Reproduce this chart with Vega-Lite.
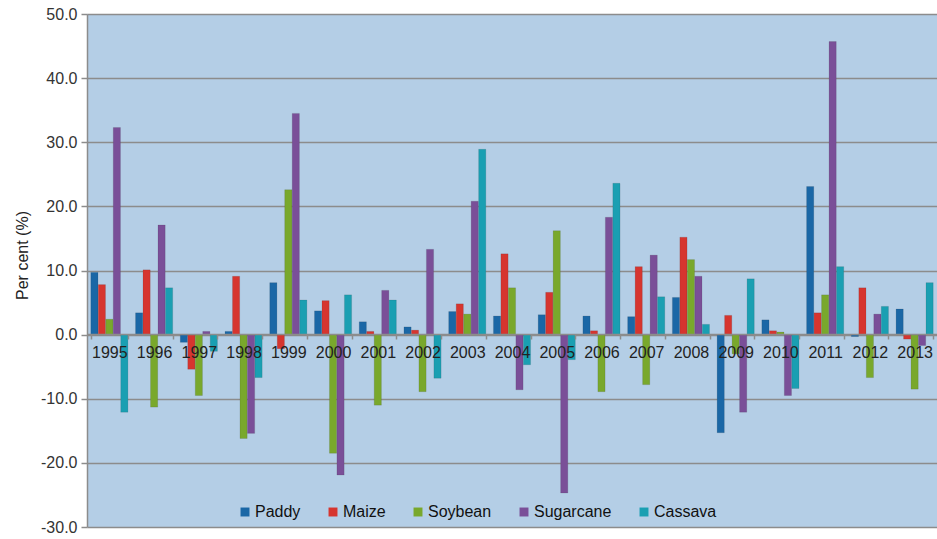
{
  "$schema": "https://vega.github.io/schema/vega-lite/v6.json",
  "width": 850,
  "height": 513,
  "autosize": {"type": "none"},
  "padding": {"left": 87, "top": 14, "right": 0, "bottom": 12},
  "background": "white",
  "config": {
    "view": {"fill": "#b4cee6", "stroke": null},
    "font": "Liberation Sans"
  },
  "data": {
    "values": [
      {"year": "1995", "crop": "Paddy", "value": 9.7},
      {"year": "1995", "crop": "Maize", "value": 7.8},
      {"year": "1995", "crop": "Soybean", "value": 2.4},
      {"year": "1995", "crop": "Sugarcane", "value": 32.3},
      {"year": "1995", "crop": "Cassava", "value": -12.1},
      {"year": "1996", "crop": "Paddy", "value": 3.4},
      {"year": "1996", "crop": "Maize", "value": 10.1},
      {"year": "1996", "crop": "Soybean", "value": -11.3},
      {"year": "1996", "crop": "Sugarcane", "value": 17.1},
      {"year": "1996", "crop": "Cassava", "value": 7.3},
      {"year": "1997", "crop": "Paddy", "value": -1.2},
      {"year": "1997", "crop": "Maize", "value": -5.4},
      {"year": "1997", "crop": "Soybean", "value": -9.5},
      {"year": "1997", "crop": "Sugarcane", "value": 0.5},
      {"year": "1997", "crop": "Cassava", "value": -2.6},
      {"year": "1998", "crop": "Paddy", "value": 0.5},
      {"year": "1998", "crop": "Maize", "value": 9.1},
      {"year": "1998", "crop": "Soybean", "value": -16.2},
      {"year": "1998", "crop": "Sugarcane", "value": -15.4},
      {"year": "1998", "crop": "Cassava", "value": -6.7},
      {"year": "1999", "crop": "Paddy", "value": 8.1},
      {"year": "1999", "crop": "Maize", "value": -2.2},
      {"year": "1999", "crop": "Soybean", "value": 22.6},
      {"year": "1999", "crop": "Sugarcane", "value": 34.5},
      {"year": "1999", "crop": "Cassava", "value": 5.4},
      {"year": "2000", "crop": "Paddy", "value": 3.7},
      {"year": "2000", "crop": "Maize", "value": 5.3},
      {"year": "2000", "crop": "Soybean", "value": -18.5},
      {"year": "2000", "crop": "Sugarcane", "value": -21.9},
      {"year": "2000", "crop": "Cassava", "value": 6.2},
      {"year": "2001", "crop": "Paddy", "value": 2.0},
      {"year": "2001", "crop": "Maize", "value": 0.5},
      {"year": "2001", "crop": "Soybean", "value": -11.0},
      {"year": "2001", "crop": "Sugarcane", "value": 6.9},
      {"year": "2001", "crop": "Cassava", "value": 5.4},
      {"year": "2002", "crop": "Paddy", "value": 1.2},
      {"year": "2002", "crop": "Maize", "value": 0.7},
      {"year": "2002", "crop": "Soybean", "value": -8.9},
      {"year": "2002", "crop": "Sugarcane", "value": 13.3},
      {"year": "2002", "crop": "Cassava", "value": -6.8},
      {"year": "2003", "crop": "Paddy", "value": 3.6},
      {"year": "2003", "crop": "Maize", "value": 4.8},
      {"year": "2003", "crop": "Soybean", "value": 3.2},
      {"year": "2003", "crop": "Sugarcane", "value": 20.8},
      {"year": "2003", "crop": "Cassava", "value": 28.9},
      {"year": "2004", "crop": "Paddy", "value": 2.9},
      {"year": "2004", "crop": "Maize", "value": 12.6},
      {"year": "2004", "crop": "Soybean", "value": 7.3},
      {"year": "2004", "crop": "Sugarcane", "value": -8.6},
      {"year": "2004", "crop": "Cassava", "value": -4.7},
      {"year": "2005", "crop": "Paddy", "value": 3.1},
      {"year": "2005", "crop": "Maize", "value": 6.6},
      {"year": "2005", "crop": "Soybean", "value": 16.2},
      {"year": "2005", "crop": "Sugarcane", "value": -24.7},
      {"year": "2005", "crop": "Cassava", "value": -3.9},
      {"year": "2006", "crop": "Paddy", "value": 2.9},
      {"year": "2006", "crop": "Maize", "value": 0.6},
      {"year": "2006", "crop": "Soybean", "value": -8.9},
      {"year": "2006", "crop": "Sugarcane", "value": 18.3},
      {"year": "2006", "crop": "Cassava", "value": 23.6},
      {"year": "2007", "crop": "Paddy", "value": 2.8},
      {"year": "2007", "crop": "Maize", "value": 10.6},
      {"year": "2007", "crop": "Soybean", "value": -7.8},
      {"year": "2007", "crop": "Sugarcane", "value": 12.4},
      {"year": "2007", "crop": "Cassava", "value": 5.9},
      {"year": "2008", "crop": "Paddy", "value": 5.8},
      {"year": "2008", "crop": "Maize", "value": 15.2},
      {"year": "2008", "crop": "Soybean", "value": 11.7},
      {"year": "2008", "crop": "Sugarcane", "value": 9.1},
      {"year": "2008", "crop": "Cassava", "value": 1.6},
      {"year": "2009", "crop": "Paddy", "value": -15.3},
      {"year": "2009", "crop": "Maize", "value": 3.0},
      {"year": "2009", "crop": "Soybean", "value": -3.0},
      {"year": "2009", "crop": "Sugarcane", "value": -12.1},
      {"year": "2009", "crop": "Cassava", "value": 8.7},
      {"year": "2010", "crop": "Paddy", "value": 2.3},
      {"year": "2010", "crop": "Maize", "value": 0.6},
      {"year": "2010", "crop": "Soybean", "value": 0.4},
      {"year": "2010", "crop": "Sugarcane", "value": -9.5},
      {"year": "2010", "crop": "Cassava", "value": -8.4},
      {"year": "2011", "crop": "Paddy", "value": 23.1},
      {"year": "2011", "crop": "Maize", "value": 3.4},
      {"year": "2011", "crop": "Soybean", "value": 6.2},
      {"year": "2011", "crop": "Sugarcane", "value": 45.7},
      {"year": "2011", "crop": "Cassava", "value": 10.6},
      {"year": "2012", "crop": "Paddy", "value": -0.3},
      {"year": "2012", "crop": "Maize", "value": 7.3},
      {"year": "2012", "crop": "Soybean", "value": -6.7},
      {"year": "2012", "crop": "Sugarcane", "value": 3.2},
      {"year": "2012", "crop": "Cassava", "value": 4.4},
      {"year": "2013", "crop": "Paddy", "value": 4.0},
      {"year": "2013", "crop": "Maize", "value": -0.7},
      {"year": "2013", "crop": "Soybean", "value": -8.5},
      {"year": "2013", "crop": "Sugarcane", "value": -1.7},
      {"year": "2013", "crop": "Cassava", "value": 8.1}
    ]
  },
  "mark": {"type": "bar", "stroke": "#333333", "strokeOpacity": 0.25, "strokeWidth": 0.5},
  "encoding": {
    "x": {
      "field": "year",
      "type": "nominal",
      "scale": {"paddingInner": 0.17, "paddingOuter": 0.085},
      "axis": {
        "title": null,
        "offset": -193,
        "zindex": 1,
        "labelAngle": 0,
        "labelFontSize": 16,
        "labelColor": "#222222",
        "labelPadding": 5,
        "tickBand": "extent",
        "tickSize": 5,
        "tickColor": "#8c8c8c",
        "tickWidth": 1.5,
        "domainColor": "#8c8c8c",
        "domainWidth": 1.5,
        "grid": false
      }
    },
    "xOffset": {
      "field": "crop",
      "type": "nominal",
      "sort": ["Paddy", "Maize", "Soybean", "Sugarcane", "Cassava"],
      "scale": {"paddingInner": 0.04}
    },
    "y": {
      "field": "value",
      "type": "quantitative",
      "scale": {"domain": [-30, 50], "nice": false, "zero": true},
      "axis": {
        "title": "Per cent (%)",
        "titleFontSize": 16,
        "titleFontWeight": "normal",
        "titleColor": "#222222",
        "titlePadding": 10,
        "titleY": 241,
        "values": [-30, -20, -10, 0, 10, 20, 30, 40, 50],
        "format": ".1f",
        "labelExpr": "replace(datum.label, '\u2212', '-')",
        "labelFontSize": 16,
        "labelColor": "#333333",
        "labelPadding": 4,
        "tickSize": 6,
        "tickColor": "#8c8c8c",
        "tickWidth": 1.5,
        "domainColor": "#8c8c8c",
        "domainWidth": 1.5,
        "grid": true,
        "gridColor": "#8c8c8c",
        "gridWidth": 1.5
      }
    },
    "color": {
      "field": "crop",
      "type": "nominal",
      "scale": {
        "domain": ["Paddy", "Maize", "Soybean", "Sugarcane", "Cassava"],
        "range": ["#1a67a6", "#d6352f", "#79a82c", "#7a4f98", "#1a9fb2"]
      },
      "legend": {
        "title": null,
        "orient": "none",
        "direction": "horizontal",
        "legendX": 150,
        "legendY": 490,
        "symbolType": "square",
        "symbolSize": 80,
        "symbolStrokeWidth": 0,
        "labelFontSize": 16,
        "labelColor": "#111111",
        "labelOffset": 2,
        "columnPadding": 24
      }
    }
  }
}
